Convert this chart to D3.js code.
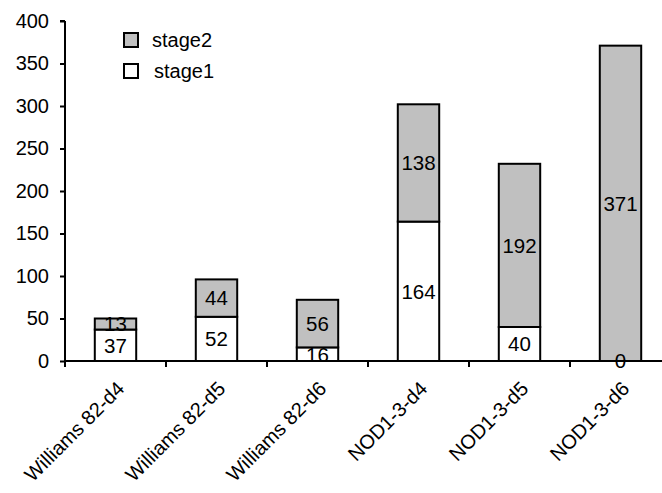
<!DOCTYPE html>
<html><head><meta charset="utf-8">
<script src="https://cdn.jsdelivr.net/npm/d3@7"></script>
<style>body{margin:0;background:#fff}svg{display:block}text{font-family:"Liberation Sans",Arial,sans-serif;fill:#000}</style>
</head><body><svg id="c" width="662" height="493"></svg>
<script>
const categories = ["Williams 82-d4","Williams 82-d5","Williams 82-d6","NOD1-3-d4","NOD1-3-d5","NOD1-3-d6"];
const stage1 = [37,52,16,164,40,0];
const stage2 = [13,44,56,138,192,371];
const yTicks = [0,50,100,150,200,250,300,350,400];
const seriesNames = ["stage1","stage2"];
const colors = {stage1:"#ffffff", stage2:"#c0c0c0"};

const svg = d3.select("#c");
const x0 = 65, y0 = 361;
const x = d3.scaleBand().domain(categories).range([x0, x0 + 6*101]).paddingInner(0.59).paddingOuter(0.295);
const y = d3.scaleLinear().domain([0,400]).range([y0, 21]);

const data = categories.map((c,i)=>({cat:c, stage1:stage1[i], stage2:stage2[i]}));
const stacked = d3.stack().keys(seriesNames)(data);

const g = svg.append("g");
stacked.forEach(s=>{
  g.selectAll(null).data(s).enter().append("rect")
    .attr("x", d=>x(d.data.cat))
    .attr("width", x.bandwidth())
    .attr("y", d=>y(d[1]))
    .attr("height", d=>y(d[0])-y(d[1]))
    .attr("fill", colors[s.key]).attr("stroke","#000").attr("stroke-width",2);
});
stacked.forEach(s=>{
  g.selectAll(null).data(s).enter().append("text")
    .attr("x", d=>x(d.data.cat)+x.bandwidth()/2)
    .attr("y", d=>(y(d[0])+y(d[1]))/2)
    .attr("dy","0.36em")
    .attr("text-anchor","middle").attr("font-size",20.5)
    .text(d=>d.data[s.key]);
});

// y axis
const ya = svg.append("g").attr("transform",`translate(${x0},0)`)
  .call(d3.axisLeft(y).tickValues(yTicks).tickSize(5).tickPadding(11));
ya.selectAll("text").attr("font-size",20).style("font-family","Liberation Sans, Arial, sans-serif").attr("fill","#000");
ya.selectAll("line,path").attr("stroke","#000").attr("stroke-width",2);
ya.select("path").attr("d",`M0,${y0}V${y(400)}M-5,${y(400)}H0`);

// x axis
const xa = svg.append("g").attr("transform",`translate(0,${y0})`);
xa.append("line").attr("x1",x0).attr("x2",x0+6*101).attr("stroke","#000").attr("stroke-width",2);
xa.selectAll("line.t").data(d3.range(7)).enter().append("line").attr("class","t")
  .attr("x1",i=>x0+i*x.step()).attr("x2",i=>x0+i*x.step()).attr("y1",0).attr("y2",6)
  .attr("stroke","#000").attr("stroke-width",2);
xa.selectAll("text").data(categories).enter().append("text")
  .attr("transform",d=>`translate(${x(d)+x.bandwidth()/2+10},29) rotate(-45)`)
  .attr("text-anchor","end").attr("font-size",20).text(d=>d);

// legend
const leg = [{k:"stage2",y:32,tx:152},{k:"stage1",y:63,tx:154}];
const lg = svg.append("g");
lg.selectAll("rect").data(leg).enter().append("rect")
  .attr("x",124).attr("y",d=>d.y+1).attr("width",14).attr("height",14)
  .attr("fill",d=>colors[d.k]).attr("stroke","#000").attr("stroke-width",2);
lg.selectAll("text").data(leg).enter().append("text")
  .attr("x",d=>d.tx).attr("y",d=>d.y+8).attr("dy","0.36em").attr("font-size",20).text(d=>d.k);
</script></body></html>
